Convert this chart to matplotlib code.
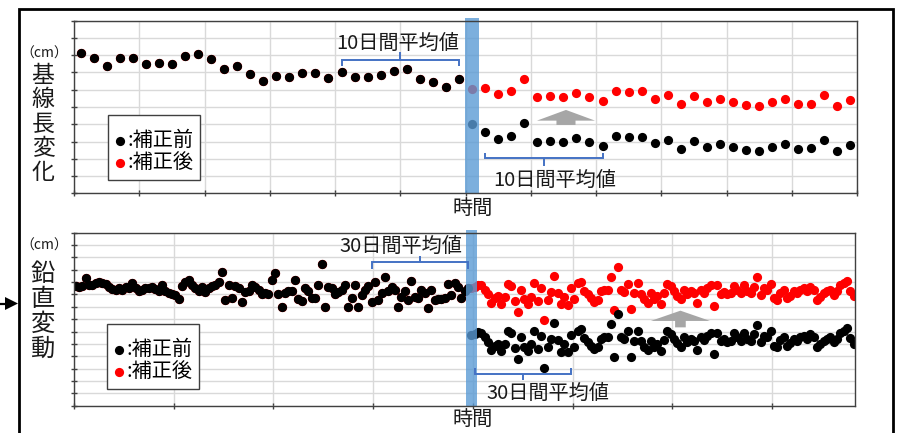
import numpy as np
import matplotlib
matplotlib.use("Agg")
import matplotlib.pyplot as plt
from matplotlib.patches import FancyArrow, Polygon
from matplotlib.lines import Line2D

plt.rcParams['font.family'] = ['Noto Sans CJK JP', 'DejaVu Sans']

# ---- 基線長変化: daily values (grid units), 60 days ----
baseline_before = [8.11, 7.82, 7.39, 7.86, 7.82, 7.49, 7.57, 7.47, 7.95, 8.07,
                   7.76, 7.20, 7.39, 6.93, 6.49, 6.78, 6.72, 6.95, 6.99, 6.66,
                   7.05, 6.72, 6.72, 6.85, 7.10, 7.20, 6.62, 6.43, 6.14, 6.60]
baseline_after_raw = [4.00, 3.53, 3.15, 3.32, 4.05, 2.95, 3.05, 2.95, 3.22, 2.95,
                      2.76, 3.32, 3.26, 3.28, 2.90, 3.09, 2.57, 3.01, 2.68, 2.84,
                      2.66, 2.49, 2.47, 2.68, 2.84, 2.57, 2.61, 3.09, 2.45, 2.78]
baseline_after_corrected = [6.02, 6.12, 5.75, 5.95, 6.62, 5.56, 5.66, 5.56, 5.79, 5.56,
                            5.37, 5.95, 5.87, 5.91, 5.48, 5.71, 5.17, 5.62, 5.27, 5.46,
                            5.29, 5.10, 5.08, 5.29, 5.46, 5.17, 5.17, 5.70, 5.04, 5.39]

# ---- 鉛直変動: daily values (grid units), 235 days ----
vertical_before = [
    9.70, 9.60, 9.65, 10.30, 9.75, 9.80, 9.90, 10.00, 9.95, 9.85,
    9.60, 9.45, 9.35, 9.50, 9.40, 9.60, 9.50, 9.95, 9.55, 9.25,
    9.40, 9.50, 9.50, 9.60, 9.45, 9.30, 9.80, 9.30, 9.15, 9.05,
    8.95, 8.60, 9.70, 10.05, 10.20, 9.75, 9.50, 9.30, 9.60, 9.20,
    9.50, 9.65, 9.80, 10.05, 10.85, 8.55, 9.75, 8.70, 9.70, 9.55,
    8.40, 9.20, 9.30, 9.75, 9.60, 9.35, 9.00, 9.10, 9.00, 10.15,
    10.75, 9.05, 8.00, 9.10, 9.25, 9.30, 10.20, 8.60, 8.45, 9.50,
    9.25, 8.70, 8.70, 9.75, 11.45, 8.00, 9.60, 9.50, 9.05, 9.20,
    9.35, 9.75, 8.00, 8.70, 9.75, 7.95, 8.95, 9.35, 9.70, 8.40,
    10.05, 8.55, 9.10, 10.40, 9.25, 9.60, 9.35, 7.95, 8.80, 9.25,
    8.55, 10.10, 8.80, 8.70, 9.40, 9.10, 7.90, 9.40, 8.55, 8.60,
    8.60, 8.70, 9.85, 8.95, 9.90, 9.60, 8.70, 9.25, 9.50]
vertical_after_corrected = [
    9.55,
    9.60, 9.80, 9.75, 9.40, 9.00, 8.30, 8.70, 8.85, 8.25, 8.80,
    9.85, 9.70, 8.50, 7.60, 9.35, 8.60, 8.25, 8.80, 9.90, 8.45,
    9.50, 6.90, 8.55, 9.20, 10.50, 9.15, 8.20, 8.80, 8.15, 9.55,
    8.60, 9.90, 10.00, 9.30, 9.00, 8.70, 8.40, 8.55, 9.25, 9.40,
    9.40, 10.45, 7.75, 11.25, 9.35, 9.20, 9.85, 7.80, 9.10, 9.90,
    9.05, 8.60, 8.30, 9.10, 8.60, 8.85, 8.25, 9.15, 9.85, 9.65,
    9.25, 8.90, 8.60, 9.35, 9.00, 9.25, 9.10, 8.30, 9.35, 9.15,
    9.50, 9.75, 8.05, 9.75, 9.05, 9.20, 9.00, 9.10, 9.70, 9.35,
    9.10, 9.75, 9.25, 9.10, 9.60, 10.40, 8.95, 9.50, 9.40, 9.85,
    8.70, 8.55, 9.15, 9.35, 8.70, 8.90, 9.25, 9.10, 9.40, 9.50,
    9.25, 9.60, 9.35, 8.55, 8.80, 9.10, 9.25, 9.35, 8.95, 9.25,
    9.75, 9.90, 10.10, 9.30, 8.85]
vertical_correction = 3.83

baseline_window = 10
vertical_window = 30

legend_labels = [':補正前', ':補正後']
axis_label = '時間'
unit_label = '（cm）'

# ---- assemble series ----
top_step = len(baseline_before)
top_raw = np.array(baseline_before + baseline_after_raw)
top_cor = np.array(baseline_before + baseline_after_corrected)
x_top = np.arange(len(top_raw)) + 0.5

bot_step = len(vertical_before)
after_cor = np.array(vertical_after_corrected)
bot_cor = np.concatenate([vertical_before, after_cor])
bot_raw = np.concatenate([vertical_before, after_cor - vertical_correction])
x_bot = np.arange(len(bot_raw)) + 0.5

W, H = 897, 433
fig = plt.figure(figsize=(W / 100, H / 100), dpi=100)


def fx(px):
    return px / W


def fy(py):
    return 1 - py / H


GRID = '#D9D9D9'
SPINE = '#404040'
BAND = '#5B9BD5'
BRACE = '#4472C4'
ARROW = '#A6A6A6'

ax1 = fig.add_axes([fx(74), fy(193.3), (857 - 74) / W, (193.3 - 20.7) / H])
ax2 = fig.add_axes([fx(74), fy(405.7), (855.3 - 74) / W, (405.7 - 232.7) / H])


def style(ax, xmax, xstep, ymax):
    ax.set_xlim(0, xmax)
    ax.set_ylim(0, ymax)
    ax.set_xticks(np.arange(0, xmax + 0.01, xstep))
    ax.set_yticks(np.arange(0, ymax + 0.01, 1))
    ax.tick_params(labelbottom=False, labelleft=False, direction='inout',
                   length=4, width=1, color=SPINE)
    ax.grid(True, color=GRID, lw=1)
    ax.set_axisbelow(True)
    for s in ax.spines.values():
        s.set_color(SPINE)
        s.set_linewidth(1.0)
        s.set_zorder(6)


style(ax1, len(top_raw), 5, 10)
style(ax2, len(bot_raw), 30, 14)

S = 44
h_cor1 = ax1.scatter(x_top, top_cor, s=S, color='#FF0000', lw=0, zorder=3)
h_raw1 = ax1.scatter(x_top, top_raw, s=S, color='#000000', lw=0, zorder=4)
h_cor2 = ax2.scatter(x_bot, bot_cor, s=S, color='#FF0000', lw=0, zorder=3)
h_raw2 = ax2.scatter(x_bot, bot_raw, s=S, color='#000000', lw=0, zorder=4)

# step marker band
ax1.axvspan(x_top[top_step] - 0.57, x_top[top_step] + 0.57, ymin=0, ymax=1.014,
            color=BAND, alpha=0.8, lw=0, zorder=5, clip_on=False)
ax2.axvspan(x_bot[bot_step] - 1.6, x_bot[bot_step] + 1.6, ymin=0, ymax=1.016,
            color=BAND, alpha=0.8, lw=0, zorder=5, clip_on=False)


def brace(ax, x0, x1, y_line, y_end, y_tip):
    xm = (x0 + x1) / 2
    kw = dict(color=BRACE, lw=1.4, clip_on=False, zorder=7,
              solid_joinstyle='miter', solid_capstyle='butt')
    ax.plot([x0, x0, x1, x1], [y_end, y_line, y_line, y_end], **kw)
    ax.plot([xm, xm], [y_line, y_tip], **kw)


# averaging windows before / after the step
brace(ax1, x_top[top_step - baseline_window], x_top[top_step - 1], 7.75, 7.38, 8.19)
brace(ax1, x_top[top_step + 1], x_top[top_step + baseline_window], 2.03, 2.32, 1.60)
brace(ax2, x_bot[bot_step - vertical_window], x_bot[bot_step - 1], 11.59, 11.04, 12.15)
brace(ax2, x_bot[bot_step + 1], x_bot[bot_step + vertical_window], 2.56, 3.03, 2.04)

# upward arrows showing the applied correction
ax1.add_patch(FancyArrow(37.7, 3.96, 0, 0.87, width=1.46, head_width=4.45,
                         head_length=0.62, length_includes_head=True,
                         color=ARROW, lw=0, zorder=6))
ax2.add_patch(FancyArrow(182.4, 6.34, 0, 1.35, width=3.2, head_width=17.8,
                         head_length=0.83, length_includes_head=True,
                         color=ARROW, lw=0, zorder=6))

# legends
for ax, hr, hc, x0, y1 in [(ax1, h_raw1, h_cor1, 0.0434, 0.4537),
                           (ax2, h_raw2, h_cor2, 0.0422, 0.4723)]:
    leg = ax.legend([hr, hc], legend_labels, loc='upper left',
                    bbox_to_anchor=(x0, y1), frameon=True, fancybox=False,
                    edgecolor=SPINE, framealpha=1, fontsize=14.5,
                    handlelength=0.5, handletextpad=0.1, borderpad=0.35,
                    labelspacing=0.02, borderaxespad=0, scatterpoints=1,
                    title=' ', title_fontsize=5)
    leg.get_frame().set_linewidth(1.0)
    leg.set_zorder(8)

# text labels
txt = dict(color='#1A1A1A', ha='center', va='center')
fig.text(fx(397.5), fy(43), f'{baseline_window}日間平均値', fontsize=14.5, **txt)
fig.text(fx(555), fy(180), f'{baseline_window}日間平均値', fontsize=14.5, **txt)
fig.text(fx(401), fy(246.5), f'{vertical_window}日間平均値', fontsize=14.5, **txt)
fig.text(fx(548), fy(393), f'{vertical_window}日間平均値', fontsize=14.5, **txt)
fig.text(fx(473), fy(208), axis_label, fontsize=14.5, **txt)
fig.text(fx(473), fy(419), axis_label, fontsize=14.5, **txt)
fig.text(fx(44), fy(54), unit_label, fontsize=10, **txt)
fig.text(fx(44), fy(246), unit_label, fontsize=10, **txt)

for i, ch in enumerate('基線長変化'):
    fig.text(fx(43), fy(75.5 + 24.25 * i), ch, fontsize=16.5, **txt)
for i, ch in enumerate('鉛直変動'):
    fig.text(fx(43), fy(274 + 25 * i), ch, fontsize=17.5, **txt)

# outer frame
frame_kw = dict(color='black', lw=2, transform=fig.transFigure,
                solid_joinstyle='miter', solid_capstyle='projecting')
fig.add_artist(Line2D([fx(18.5), fx(18.5), fx(892.5), fx(892.5)],
                      [fy(433), fy(8.5), fy(8.5), fy(433)], **frame_kw))

# pointer on the left edge
fig.add_artist(Line2D([fx(0), fx(8)], [fy(303.5), fy(303.5)], color='black',
                      lw=1.6, transform=fig.transFigure))
fig.add_artist(Polygon([[fx(5), fy(297)], [fx(5), fy(310)], [fx(18), fy(303.5)]],
                       closed=True, color='black', lw=0, transform=fig.transFigure))

fig.savefig('out.png', dpi=100)
